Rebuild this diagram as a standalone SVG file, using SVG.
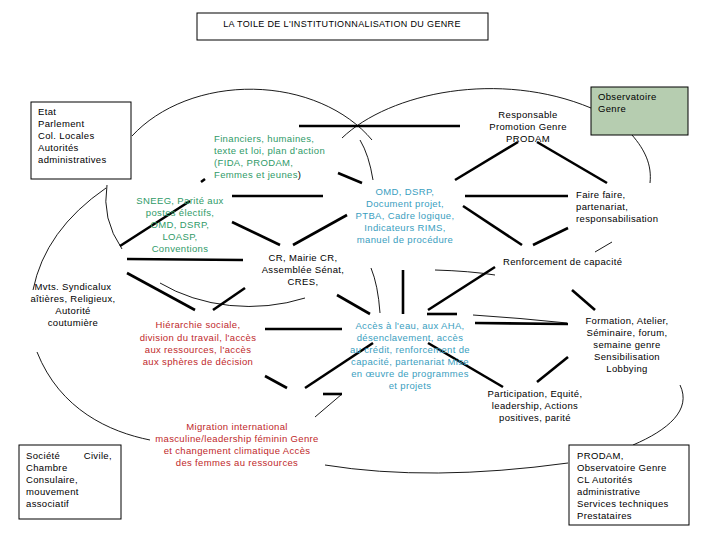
<svg xmlns="http://www.w3.org/2000/svg" width="720" height="540" viewBox="0 0 720 540">
<style>
text{font-family:"Liberation Sans",Arial,sans-serif;font-size:9.5px;letter-spacing:0.35px;fill:#000}
.g{fill:#2f9a68}.t{fill:#3a9ec0}.r{fill:#c0282a}
.m{text-anchor:middle}
.box{fill:#fff;stroke:#000;stroke-width:1}
.thin{fill:none;stroke:#000;stroke-width:0.9}
.thick{stroke:#000;stroke-width:2.6;stroke-linecap:butt}
</style>
<rect width="720" height="540" fill="#fff"/>
<g id="connectors">
 <g class="thin">
  <path d="M132,136 A144,109 0 0 1 372,140"/>
  <path d="M107,185 A144,109 0 0 0 122,249"/>
  <path d="M160,283 A144,109 0 0 0 305,298"/>
  <path d="M106,188 Q45,230 33,290"/>
  <path d="M37,352 C60,410 110,432 150,440"/>
  <path d="M325,465 Q430,482 568,463"/>
  <path d="M633,445 C668,430 692,410 680,385"/>
  <path d="M632,135 C645,150 652,165 650,183"/>
  <path d="M342,138 C390,92 500,70 591,108"/>
  <path d="M360,140 Q369,155 373,180"/>
  <path d="M371,268 Q378,285 380,313"/>
  <path d="M435,270 Q470,271 495,275"/>
  <path d="M473,315 Q520,318 567,323"/>
  <path d="M315,417 L342,394"/>
  <path d="M595,252 L612,242"/>
 </g>
 <g class="thick">
  <line x1="299" y1="126" x2="460" y2="126"/>
  <line x1="201" y1="182" x2="205" y2="179"/>
  <line x1="338" y1="173" x2="362" y2="183"/>
  <line x1="232" y1="196" x2="323" y2="196"/>
  <line x1="120" y1="246" x2="190" y2="201"/>
  <line x1="232" y1="222" x2="280" y2="245"/>
  <line x1="293" y1="245" x2="347" y2="215"/>
  <line x1="127" y1="259" x2="243" y2="260"/>
  <line x1="127" y1="273" x2="195" y2="310"/>
  <line x1="213" y1="310" x2="245" y2="288"/>
  <line x1="337" y1="295" x2="370" y2="314"/>
  <line x1="403" y1="270" x2="403" y2="314"/>
  <line x1="428" y1="310" x2="495" y2="267"/>
  <line x1="427" y1="314" x2="457" y2="314"/>
  <line x1="475" y1="323" x2="568" y2="324"/>
  <line x1="265" y1="329" x2="342" y2="329"/>
  <line x1="305" y1="388" x2="373" y2="343"/>
  <line x1="265" y1="376" x2="287" y2="388"/>
  <line x1="323" y1="394" x2="342" y2="394"/>
  <line x1="428" y1="343" x2="503" y2="387"/>
  <line x1="572" y1="290" x2="595" y2="310"/>
  <line x1="568" y1="357" x2="537" y2="382"/>
  <line x1="455" y1="180" x2="518" y2="142"/>
  <line x1="537" y1="142" x2="607" y2="183"/>
  <line x1="465" y1="196" x2="568" y2="196"/>
  <line x1="463" y1="206" x2="522" y2="245"/>
  <line x1="533" y1="245" x2="568" y2="228"/>
 </g>
</g>
<g id="title">
 <rect class="box" x="197" y="13" width="291" height="27"/>
 <text class="m" x="342" y="27" style="font-size:9px">LA TOILE  DE L'INSTITUTIONNALISATION DU GENRE</text>
</g>
<g id="etat">
 <rect class="box" x="31" y="102" width="100" height="77"/>
 <text x="38" y="115">Etat</text><text x="38" y="127">Parlement</text><text x="38" y="139">Col.  Locales</text><text x="38" y="151">Autorités</text><text x="38" y="163">administratives</text>
</g>
<g id="observatoire">
 <rect x="591" y="87" width="97" height="48" fill="#b6cdb0" stroke="#000"/>
 <text x="598" y="100">Observatoire</text><text x="598" y="112">Genre</text>
</g>
<g id="responsable">
 <text class="m" x="528" y="118">Responsable</text><text class="m" x="528" y="130">Promotion Genre</text><text class="m" x="528" y="142">PRODAM</text>
</g>
<g id="financiers">
 <text class="g" x="214" y="142">Financiers,  humaines,</text><text class="g" x="214" y="154">texte et loi, plan d'action</text><text class="g" x="214" y="166">(FIDA, PRODAM,</text><text class="g" x="214" y="178">Femmes et jeunes<tspan fill="#000">)</tspan></text>
</g>
<g id="sneeg">
 <text class="g m" x="180" y="204">SNEEG, Parité aux</text><text class="g m" x="180" y="216">postes électifs,</text><text class="g m" x="180" y="228">OMD, DSRP,</text><text class="g m" x="180" y="240">LOASP,</text><text class="g m" x="180" y="252">Conventions</text>
</g>
<g id="omd">
 <text class="t m" x="405" y="195">OMD, DSRP,</text><text class="t m" x="405" y="207">Document projet,</text><text class="t m" x="405" y="219">PTBA, Cadre logique,</text><text class="t m" x="405" y="231">Indicateurs RIMS,</text><text class="t m" x="405" y="243">manuel de procédure</text>
</g>
<g id="faire">
 <text x="576" y="198">Faire faire,</text><text x="576" y="210">partenariat,</text><text x="576" y="222">responsabilisation</text>
</g>
<g id="cr">
 <text class="m" x="303" y="261">CR, Mairie CR,</text><text class="m" x="303" y="273">Assemblée Sénat,</text><text class="m" x="303" y="285">CRES,</text>
</g>
<g id="renforcement"><text x="503" y="265">Renforcement de capacité</text></g>
<g id="mvts">
 <text class="m" x="73" y="290">Mvts. Syndicalux</text><text class="m" x="73" y="302">aîtières, Religieux,</text><text class="m" x="73" y="314">Autorité</text><text class="m" x="73" y="326">coutumière</text>
</g>
<g id="hierarchie">
 <text class="r m" x="198" y="328">Hiérarchie sociale,</text><text class="r m" x="198" y="341">division du travail, l'accès</text><text class="r m" x="198" y="353">aux ressources, l'accès</text><text class="r m" x="198" y="365">aux sphères de décision</text>
</g>
<g id="acces">
 <text class="t m" x="410" y="329">Accès à l'eau, aux AHA,</text><text class="t m" x="410" y="341">désenclavement, accès</text><text class="t m" x="410" y="353">au crédit, renforcement de</text><text class="t m" x="410" y="365">capacité, partenariat Mise</text><text class="t m" x="410" y="377">en œuvre de programmes</text><text class="t m" x="410" y="389">et projets</text>
</g>
<g id="formation">
 <text class="m" x="627" y="324">Formation, Atelier,</text><text class="m" x="627" y="336">Séminaire, forum,</text><text class="m" x="627" y="348">semaine genre</text><text class="m" x="627" y="360">Sensibilisation</text><text class="m" x="627" y="372">Lobbying</text>
</g>
<g id="participation">
 <text class="m" x="535" y="397">Participation, Equité,</text><text class="m" x="535" y="409">leadership, Actions</text><text class="m" x="535" y="421">positives, parité</text>
</g>
<g id="migration">
 <text class="r m" x="237" y="430">Migration international</text><text class="r m" x="237" y="442">masculine/leadership féminin Genre</text><text class="r m" x="237" y="454">et changement climatique Accès</text><text class="r m" x="237" y="466">des femmes au ressources</text>
</g>
<g id="societe">
 <rect class="box" x="19" y="445" width="102" height="74"/>
 <text x="26" y="459">Société</text><text x="112" y="459" text-anchor="end">Civile,</text><text x="26" y="471">Chambre</text><text x="26" y="483">Consulaire,</text><text x="26" y="495">mouvement</text><text x="26" y="507">associatif</text>
</g>
<g id="prodam">
 <rect class="box" x="569" y="445" width="120" height="80"/>
 <text x="577" y="459">PRODAM,</text><text x="577" y="471">Observatoire Genre</text><text x="577" y="483">CL Autorités</text><text x="577" y="495">administrative</text><text x="577" y="507">Services techniques</text><text x="577" y="519">Prestataires</text>
</g>
</svg>
